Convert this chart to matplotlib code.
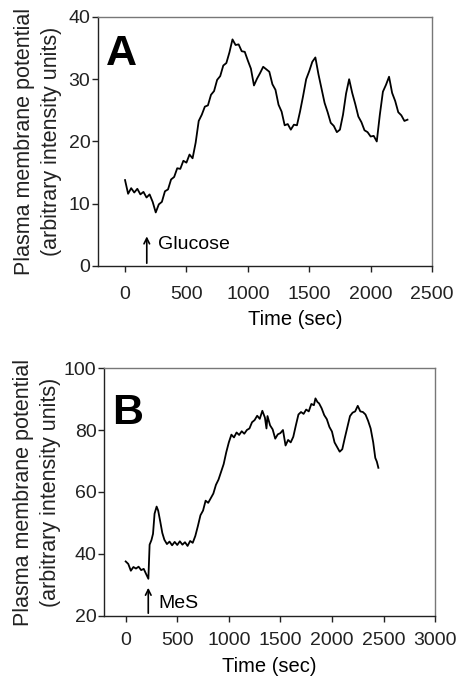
import matplotlib
matplotlib.use("Agg")
import matplotlib.pyplot as plt

plt.rcParams['font.family'] = ['Liberation Sans', 'DejaVu Sans']

# panel A: glucose addition
time_a = [0, 25, 50, 75, 100, 125, 150, 175, 200, 225, 250, 275, 300, 325, 350,
          375, 400, 425, 450, 475, 500, 525, 550, 575, 600, 625, 650, 675, 700,
          725, 750, 775, 800, 825, 850, 875, 900, 925, 950, 975, 1000, 1025,
          1050, 1075, 1100, 1125, 1150, 1175, 1200, 1225, 1250, 1275, 1300,
          1325, 1350, 1375, 1400, 1425, 1450, 1475, 1500, 1525, 1550, 1575,
          1600, 1625, 1650, 1675, 1700, 1725, 1750, 1775, 1800, 1825, 1850,
          1875, 1900, 1925, 1950, 1975, 2000, 2025, 2050, 2075, 2100, 2125,
          2150, 2175, 2200, 2225, 2250, 2275, 2300]
signal_a = [13.8, 11.6, 12.5, 11.8, 12.4, 11.5, 11.9, 11.0, 11.5, 10.3, 8.6,
            9.9, 10.3, 12.0, 12.3, 13.9, 14.3, 15.7, 15.6, 16.9, 16.6, 17.9,
            17.3, 19.8, 23.3, 24.3, 25.6, 25.8, 27.5, 28.1, 29.9, 30.5, 32.2,
            32.6, 34.3, 36.4, 35.5, 35.6, 34.5, 34.4, 33.0, 31.7, 29.0, 30.1,
            31.0, 32.0, 31.6, 31.2, 29.2, 28.3, 25.9, 24.8, 22.6, 22.8, 21.9,
            22.7, 22.6, 24.8, 27.3, 30.0, 31.3, 32.8, 33.5, 30.8, 28.5, 26.2,
            24.7, 23.0, 22.5, 21.5, 21.9, 24.3, 27.7, 30.0, 27.8, 26.0, 24.0,
            23.1, 21.8, 21.5, 20.8, 20.9, 20.0, 24.3, 28.0, 29.1, 30.4, 27.8,
            26.5, 24.7, 24.2, 23.3, 23.5]

# panel B: MeS addition
time_b = [0, 25, 50, 75, 100, 125, 150, 175, 200, 220, 232, 250, 265, 280, 300,
          315, 335, 355, 375, 400, 425, 450, 475, 500, 525, 550, 575, 600, 625,
          650, 675, 700, 725, 750, 775, 800, 825, 850, 875, 900, 925, 950, 975,
          1000, 1025, 1050, 1075, 1100, 1125, 1150, 1175, 1200, 1225, 1250,
          1275, 1300, 1325, 1350, 1365, 1375, 1400, 1425, 1450, 1475, 1500,
          1525, 1550, 1575, 1600, 1625, 1650, 1675, 1700, 1725, 1750, 1775,
          1800, 1825, 1840, 1860, 1875, 1900, 1925, 1950, 1975, 2000, 2025,
          2050, 2075, 2100, 2125, 2150, 2175, 2200, 2225, 2250, 2275, 2300,
          2325, 2350, 2375, 2400, 2420, 2435, 2450]
signal_b = [37.6, 36.8, 34.6, 35.8, 35.3, 35.9, 34.8, 35.2, 33.4, 32.0, 43.0,
            44.5, 46.5, 53.0, 55.3, 54.0, 50.5, 46.8, 44.6, 43.2, 44.0, 42.8,
            43.9, 42.9, 44.1, 43.0, 43.8, 42.6, 44.2, 43.6, 45.8, 49.0, 52.5,
            54.0, 57.2, 56.5, 58.0, 59.5, 62.3, 64.0, 66.5, 69.0, 72.8, 76.0,
            78.5, 77.6, 79.2, 78.4, 79.6, 78.8, 80.0, 80.5, 82.5, 83.2, 84.6,
            83.6, 86.2, 84.0, 80.5, 84.5, 81.5, 80.2, 77.2, 78.6, 79.0, 80.0,
            75.0, 76.8, 76.0, 77.8, 81.5, 85.0, 85.8, 85.2, 86.6, 86.0, 88.4,
            88.0, 90.2, 89.0, 88.6, 87.0, 84.8, 83.5, 81.0, 79.5, 76.0, 74.5,
            73.0, 73.8, 77.5, 81.0, 84.5, 85.6, 86.0, 87.8, 86.0, 85.8, 85.0,
            83.0, 80.5, 76.0, 71.0, 69.8, 67.8]

ylabel = 'Plasma membrane potential\n(arbitrary intensity units)'

fig = plt.figure(figsize=(4.65, 6.82), dpi=100)
ax_a = fig.add_axes([0.2108, 0.610, 0.7183, 0.3651])
ax_b = fig.add_axes([0.2237, 0.0968, 0.712, 0.3636])


def style(ax, xpad):
    for side in ['top', 'right']:
        ax.spines[side].set_color('#777777')
    for side in ['left', 'bottom']:
        ax.spines[side].set_color('#222222')
    for s in ax.spines.values():
        s.set_linewidth(1.0)
    ax.tick_params(direction='out', length=4, width=1, labelsize=14,
                   colors='#222222')
    ax.tick_params(axis='y', pad=1.5)
    ax.tick_params(axis='x', pad=xpad)


ax_a.plot(time_a, signal_a, color='black', lw=1.3)
ax_a.set_xlim(-220, 2500)
ax_a.set_ylim(0, 40)
ax_a.set_xticks([0, 500, 1000, 1500, 2000, 2500])
ax_a.set_yticks([0, 10, 20, 30, 40])
style(ax_a, 10.5)
ax_a.set_xlabel('Time (sec)', fontsize=14.5, va='top')
ax_a.xaxis.set_label_coords(0.59, -0.177)
ax_a.text(0.025, 0.93, 'A', transform=ax_a.transAxes, fontsize=31,
          fontweight='bold', va='top', ha='left')
ax_a.annotate('', xy=(177, 5.2), xytext=(177, 0),
              arrowprops=dict(arrowstyle='->', lw=1.2, color='black'))
ax_a.text(265, 3.4, 'Glucose', fontsize=14, va='center', ha='left')

ax_b.plot(time_b, signal_b, color='black', lw=1.3)
ax_b.set_xlim(-210, 3000)
ax_b.set_ylim(20, 100)
ax_b.set_xticks([0, 500, 1000, 1500, 2000, 2500, 3000])
ax_b.set_yticks([20, 40, 60, 80, 100])
style(ax_b, 7.5)
ax_b.set_xlabel('Time (sec)', fontsize=14.5, va='top')
ax_b.xaxis.set_label_coords(0.5, -0.165)
ax_b.text(0.025, 0.90, 'B', transform=ax_b.transAxes, fontsize=31,
          fontweight='bold', va='top', ha='left')
ax_b.annotate('', xy=(219, 30.0), xytext=(219, 20),
              arrowprops=dict(arrowstyle='->', lw=1.2, color='black'))
ax_b.text(320, 24.0, 'MeS', fontsize=14, va='center', ha='left')

fig.text(38 / 465, 1 - 141 / 682, ylabel, rotation=90, fontsize=15.5,
         ha='center', va='center', multialignment='center', linespacing=1.42,
         color='#222222')
fig.text(37 / 465, 1 - 492 / 682, ylabel, rotation=90, fontsize=15.5,
         ha='center', va='center', multialignment='center', linespacing=1.42,
         color='#222222')

fig.savefig('out.png', dpi=100)
